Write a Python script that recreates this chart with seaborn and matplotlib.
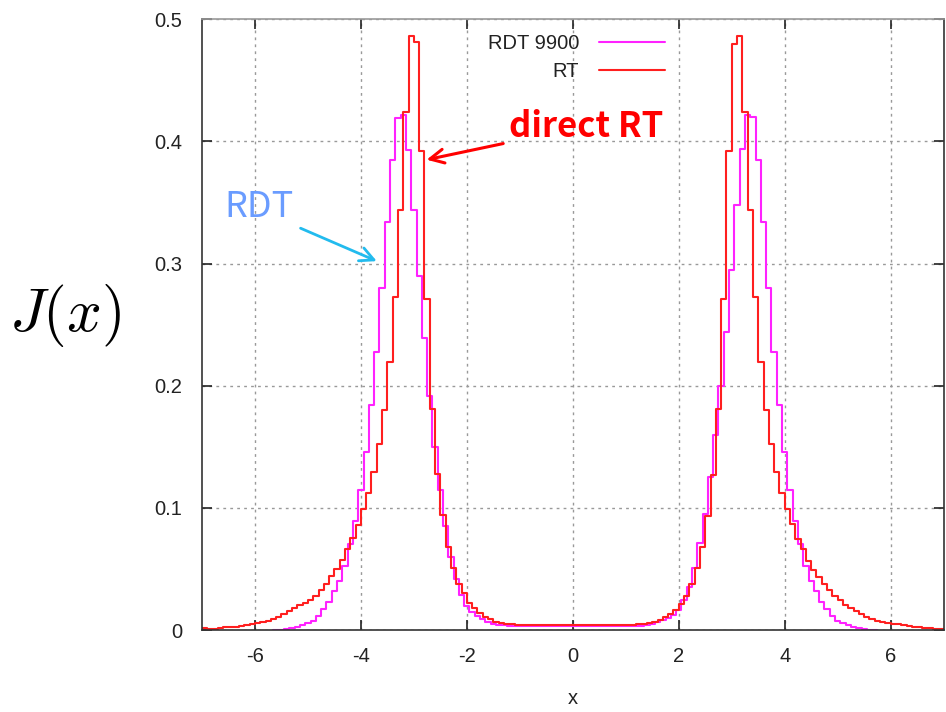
import numpy as np
import pandas as pd
import matplotlib
matplotlib.use("Agg")
import matplotlib.pyplot as plt
import seaborn as sns

# ==============================
# DATA (bin width 0.1)
# ==============================
# RT histogram: bins on tenths, -7.0 .. 7.0
rt_edges = np.round(np.arange(-7.0, 7.0001, 0.1), 2)
rt_values = [
    0.0020, 0.0012, 0.0012, 0.0014, 0.0022, 0.0022, 0.0025, 0.0034, 0.0040, 0.0049,
    0.0057, 0.0068, 0.0078, 0.0091, 0.0110, 0.0131, 0.0153, 0.0178, 0.0205, 0.0226,
    0.0250, 0.0283, 0.0330, 0.0380, 0.0440, 0.0498, 0.0575, 0.0665, 0.0750, 0.0862,
    0.0995, 0.1125, 0.1298, 0.1525, 0.1805, 0.2195, 0.2730, 0.3440, 0.4240, 0.4860,
    0.4810, 0.3920, 0.2710, 0.1810, 0.1280, 0.0940, 0.0680, 0.0510, 0.0380, 0.0300,
    0.0224, 0.0178, 0.0137, 0.0109, 0.0088, 0.0068, 0.0056, 0.0049, 0.0046, 0.0043,
    0.0041, 0.0041, 0.0041, 0.0041, 0.0041, 0.0041, 0.0041, 0.0041, 0.0041, 0.0041,
    0.0041, 0.0041, 0.0041, 0.0041, 0.0041, 0.0041, 0.0041, 0.0041, 0.0041, 0.0041,
    0.0042, 0.0044, 0.0047, 0.0051, 0.0058, 0.0070, 0.0086, 0.0106, 0.0132, 0.0165,
    0.0210, 0.0280, 0.0378, 0.0508, 0.0683, 0.0937, 0.1270, 0.1810, 0.2710, 0.3920,
    0.4800, 0.4860, 0.4240, 0.3440, 0.2730, 0.2195, 0.1805, 0.1525, 0.1298, 0.1125,
    0.0990, 0.0869, 0.0746, 0.0664, 0.0568, 0.0495, 0.0432, 0.0377, 0.0328, 0.0281,
    0.0246, 0.0208, 0.0180, 0.0153, 0.0131, 0.0109, 0.0090, 0.0077, 0.0068, 0.0057,
    0.0050, 0.0047, 0.0038, 0.0034, 0.0024, 0.0022, 0.0021, 0.0015, 0.0013, 0.0012,
]

# RDT 9900 histogram: bins shifted by half a bin, -5.65 .. 5.75
rdt_edges = np.round(np.arange(-5.65, 5.7501, 0.1), 2)
rdt_values = [
    0.0005, 0.0005, 0.0008, 0.0016, 0.0027, 0.0041, 0.0055, 0.0077, 0.0117, 0.0172,
    0.0227, 0.0322, 0.0400, 0.0527, 0.0705, 0.0896, 0.1150, 0.1460, 0.1840, 0.2280,
    0.2800, 0.3340, 0.3850, 0.4190, 0.4220, 0.3930, 0.3440, 0.2900, 0.2390, 0.1920,
    0.1500, 0.1150, 0.0850, 0.0600, 0.0420, 0.0287, 0.0197, 0.0150, 0.0115, 0.0088,
    0.0066, 0.0052, 0.0043, 0.0040, 0.0036, 0.0035, 0.0033,
    0.0031, 0.0031, 0.0031, 0.0031, 0.0031, 0.0031, 0.0031, 0.0031, 0.0031, 0.0031,
    0.0031, 0.0031, 0.0031, 0.0031, 0.0031, 0.0031, 0.0031, 0.0031, 0.0031, 0.0031,
    0.0033, 0.0035, 0.0036, 0.0040, 0.0049, 0.0063, 0.0080, 0.0098, 0.0125, 0.0165,
    0.0250, 0.0350, 0.0510, 0.0710, 0.0950, 0.1250, 0.1600, 0.2000, 0.2440, 0.2950,
    0.3480, 0.3940, 0.4220, 0.4200, 0.3850, 0.3340, 0.2800, 0.2280, 0.1840, 0.1460,
    0.1150, 0.0896, 0.0705, 0.0527, 0.0400, 0.0322, 0.0227, 0.0172, 0.0117, 0.0077,
    0.0055, 0.0041, 0.0027, 0.0016, 0.0008, 0.0005, 0.0005,
]

x_ticks = [-6, -4, -2, 0, 2, 4, 6]
x_tick_labels = ["-6", "-4", "-2", "0", "2", "4", "6"]
y_ticks = [0, 0.1, 0.2, 0.3, 0.4, 0.5]
y_tick_labels = ["0", "0.1", "0.2", "0.3", "0.4", "0.5"]

df_rt = pd.DataFrame({"x": (rt_edges[:-1] + rt_edges[1:]) / 2, "J": rt_values})
df_rdt = pd.DataFrame({"x": (rdt_edges[:-1] + rdt_edges[1:]) / 2, "J": rdt_values})

# ==============================
# STYLE
# ==============================
sns.set_style("ticks")
plt.rcParams["font.family"] = ["Liberation Sans", "DejaVu Sans"]
plt.rcParams["mathtext.fontset"] = "cm"

fig = plt.figure(figsize=(9.46, 7.12), dpi=100)
ax = fig.add_axes([0.2135, 0.115, 0.784, 0.858])

# ==============================
# HISTOGRAMS
# ==============================
sns.histplot(data=df_rdt, x="x", weights="J", bins=list(rdt_edges), element="step",
             fill=False, color="#ff22ff", linewidth=1.5, label="RDT 9900", ax=ax)
sns.histplot(data=df_rt, x="x", weights="J", bins=list(rt_edges), element="step",
             fill=False, color="#ff1f1f", linewidth=1.5, label="RT", ax=ax)

ax.set_xlim(-7, 7)
ax.set_ylim(0, 0.5)
ax.set_xticks(x_ticks)
ax.set_xticklabels(x_tick_labels)
ax.set_yticks(y_ticks)
ax.set_yticklabels(y_tick_labels)
ax.tick_params(direction="in", top=True, right=True, length=7, width=1.2,
               labelsize=14.5, colors="#222222")
ax.tick_params(axis="x", pad=12)
ax.tick_params(axis="y", pad=14)
ax.grid(True, linestyle=(0, (2, 3)), color="#999999", linewidth=1)
for s in ax.spines.values():
    s.set_color("#333333")
    s.set_linewidth(1.2)
ax.spines["top"].set_color("#999999")

ax.set_xlabel("x", fontsize=14.5, color="#222222", labelpad=17)
ax.set_ylabel(r"$J(x)$", fontsize=44, rotation=0, color="black")
ax.yaxis.set_label_coords(-0.185, 0.46)

leg = ax.legend(loc="upper center", bbox_to_anchor=(0.505, 1.005), frameon=False,
                markerfirst=False, fontsize=14.5, handlelength=3.3, handletextpad=1.0,
                labelspacing=0.45)
for t in leg.get_texts():
    t.set_color("#222222")

# ==============================
# ANNOTATIONS
# ==============================
ax.annotate("direct RT", xy=(-2.76, 0.385), xytext=(-1.2, 0.404),
            fontsize=25, fontweight="bold", color="red",
            family=["Noto Sans CJK JP", "DejaVu Sans"], va="baseline",
            arrowprops=dict(arrowstyle="->", color="red", lw=2.2,
                            mutation_scale=25, shrinkA=2, shrinkB=0))
ax.annotate("RDT", xy=(-3.7, 0.302), xytext=(-6.58, 0.338),
            fontsize=26, fontweight="normal", color="#6a9cff",
            family=["Noto Sans CJK JP", "DejaVu Sans"], va="baseline",
            arrowprops=dict(arrowstyle="->", color="#22bbee", lw=2.0,
                            mutation_scale=25, shrinkA=3, shrinkB=0,
                            relpos=(1.0, 0.0)))

fig.savefig("out.png", dpi=100)
